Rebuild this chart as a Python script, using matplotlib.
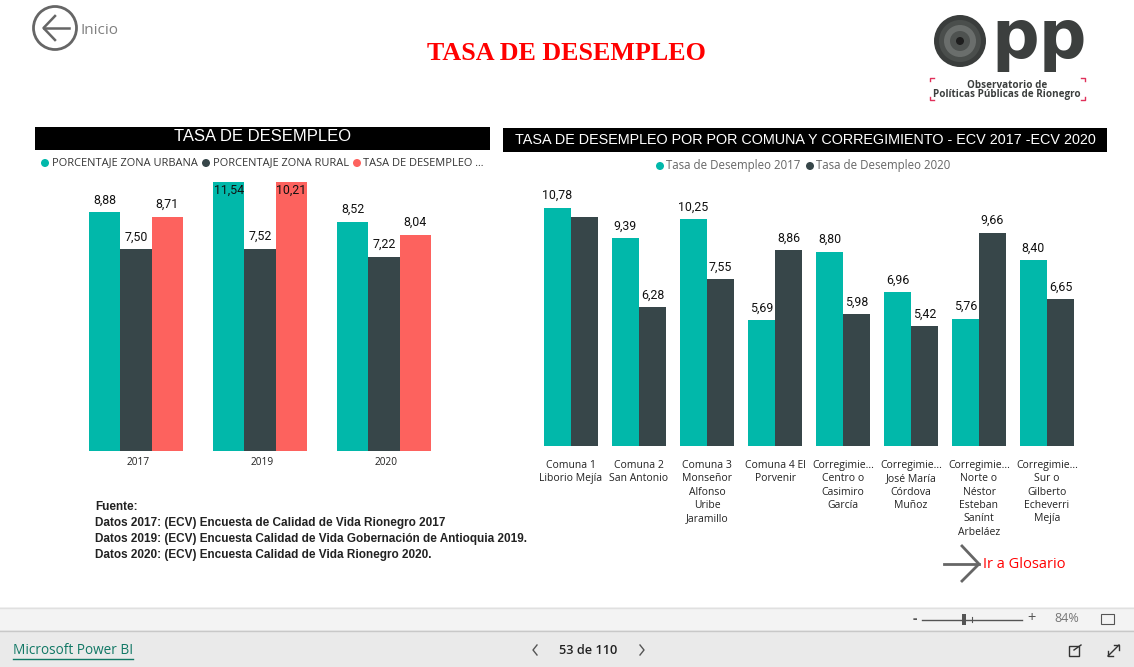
import matplotlib
matplotlib.use('Agg')
import matplotlib.pyplot as plt
from matplotlib.patches import Circle, Rectangle
from matplotlib.transforms import ScaledTranslation

# colours from the power bi theme
TEAL = '#01B8AA'
DARK = '#374649'
RED = '#FD625E'
GREY = '#666666'

# left chart data
years = ['2017', '2019', '2020']
urbana = [8.88, 11.54, 8.52]
rural = [7.50, 7.52, 7.22]
tasa = [8.71, 10.21, 8.04]

# right chart data
comunas = ['Comuna 1\nLiborio Mejía', 'Comuna 2\nSan Antonio',
           'Comuna 3\nMonseñor\nAlfonso\nUribe\nJaramillo', 'Comuna 4 El\nPorvenir',
           'Corregimie...\nCentro o\nCasimiro\nGarcía', 'Corregimie...\nJosé María\nCórdova\nMuñoz',
           'Corregimie...\nNorte o\nNéstor\nEsteban\nSanínt\nArbeláez',
           'Corregimie...\nSur o\nGilberto\nEcheverri\nMejía']
tasa_2017 = [10.78, 9.39, 10.25, 5.69, 8.80, 6.96, 5.76, 8.40]
tasa_2020 = [10.36, 6.28, 7.55, 8.86, 5.98, 5.42, 9.66, 6.65]
# power bi hid this one label in the original
hidden_2020 = [0]

fuente = ['Fuente:',
          'Datos 2017: (ECV) Encuesta de Calidad de Vida Rionegro 2017',
          'Datos 2019: (ECV) Encuesta Calidad de Vida Gobernación de Antioquia 2019.',
          'Datos 2020: (ECV) Encuesta Calidad de Vida Rionegro 2020.']

W, H = 1134, 667
plt.rcParams['font.family'] = ['Open Sans', 'DejaVu Sans']
fig = plt.figure(figsize=(W / 100, H / 100), dpi=100, facecolor='white')

# overlay in screen pixels for the report furniture
bg = fig.add_axes([0, 0, 1, 1])
bg.set_xlim(0, W)
bg.set_ylim(H, 0)
bg.axis('off')


def make_axes(left, right, top, bottom):
    ax = fig.add_axes([left / W, 1 - bottom / H, (right - left) / W, (bottom - top) / H])
    ax.patch.set_alpha(0)
    for side in ax.spines:
        ax.spines[side].set_visible(False)
    ax.set_yticks([])
    ax.tick_params(axis='x', length=0)
    return ax


def label_bars(ax, xs, values, ymax, skip=()):
    for i, (x, v) in enumerate(zip(xs, values)):
        if i in skip:
            continue
        text = f'{v:.2f}'.replace('.', ',')
        if v > ymax:
            # bar is cut by the axis so the label goes inside
            ax.annotate(text, (x, ymax), xytext=(0, -1), textcoords='offset points', ha='center',
                        va='top', fontsize=8.9, family='Roboto', color='#111111')
        else:
            ax.annotate(text, (x, v), xytext=(0, 4), textcoords='offset points', ha='center',
                        va='bottom', fontsize=8.9, family='Roboto', color='#111111')


# left chart
ax1 = make_axes(74, 446, 182, 451)
width = 31.3 / 124
pos = list(range(len(years)))
groups = [(urbana, TEAL, -width), (rural, DARK, 0), (tasa, RED, width)]
for values, color, shift in groups:
    xs = [p + shift for p in pos]
    ax1.bar(xs, values, width=width, color=color, edgecolor='none')
    label_bars(ax1, xs, values, 10)
ax1.set_xlim(-0.5, 2.5)
ax1.set_ylim(0, 10)
ax1.set_xticks(pos)
ax1.set_xticklabels(years, fontsize=7.3, color='#222222')
ax1.tick_params(axis='x', pad=4)
# year labels sit a bit right of the group centre in the original
for lab in ax1.get_xticklabels():
    lab.set_transform(lab.get_transform() + ScaledTranslation(2 / 100, 0, fig.dpi_scale_trans))

# right chart
ax2 = make_axes(537, 1081, 180, 446)
width2 = 27 / 68
pos2 = list(range(len(comunas)))
xs_2017 = [p - width2 / 2 for p in pos2]
xs_2020 = [p + width2 / 2 for p in pos2]
ax2.bar(xs_2017, tasa_2017, width=width2, color=TEAL)
ax2.bar(xs_2020, tasa_2020, width=width2, color=DARK)
label_bars(ax2, xs_2017, tasa_2017, 12.04)
label_bars(ax2, xs_2020, tasa_2020, 12.04, skip=hidden_2020)
ax2.set_xlim(-0.5, 7.5)
ax2.set_ylim(0, 266 / 22.1)
ax2.set_xticks(pos2)
ax2.set_xticklabels(comunas, fontsize=7.5, color='#222222', linespacing=1.3)
ax2.tick_params(axis='x', pad=10)

# title
bg.text(566, 54, 'TASA DE DESEMPLEO', color='#FF0000', fontsize=18.7, fontweight='bold',
        family='Liberation Serif', ha='center', va='center')

# black headers
bg.add_patch(Rectangle((35, 127), 455, 23, color='black', lw=0))
bg.text(263, 136.5, 'TASA DE DESEMPLEO', color='white', fontsize=12, family='Liberation Sans',
        ha='center', va='center')
bg.add_patch(Rectangle((503, 128), 604, 24, color='black', lw=0))
bg.text(805, 139.5, 'TASA DE DESEMPLEO POR POR COMUNA Y CORREGIMIENTO - ECV 2017 -ECV 2020', color='white',
        fontsize=10.4, family='Liberation Sans', ha='center', va='center')

# legends
legend_left = [(45, 52, 'PORCENTAJE ZONA URBANA', TEAL), (206, 213, 'PORCENTAJE ZONA RURAL', DARK),
               (357, 363, 'TASA DE DESEMPLEO ...', RED)]
for cx, tx, name, color in legend_left:
    bg.add_patch(Circle((cx, 163), 4, color=color, lw=0))
    bg.text(tx, 163, name, fontsize=7.9, color='#333333', va='center')
legend_right = [(660, 666, 'Tasa de Desempleo 2017', TEAL), (810, 816, 'Tasa de Desempleo 2020', DARK)]
for cx, tx, name, color in legend_right:
    bg.add_patch(Circle((cx, 166), 4, color=color, lw=0))
    bg.text(tx, 166, name, fontsize=8.3, color='#666666', va='center')

# source text
for i, line in enumerate(fuente):
    bg.text(95, 507 + i * 16, line, fontsize=8.5, fontweight='bold', family='Liberation Sans',
            color='#222222', va='center')

# back button
bg.add_patch(Circle((55, 28), 21.5, fill=False, ec=GREY, lw=2))
bg.plot([44, 69], [28, 28], color=GREY, lw=1.8)
bg.plot([55, 43.5, 55], [16, 28, 40], color=GREY, lw=1.8)
bg.text(81, 30, 'Inicio', fontsize=11, color='#808080', va='center')

# glossary button
bg.plot([944, 979], [564, 564], color=GREY, lw=2)
bg.plot([962, 979, 962], [546, 564, 581], color=GREY, lw=2)
bg.text(983, 564, 'Ir a Glosario', fontsize=10.5, color='#FF0000', va='center')

# logo
for radius, color in [(26, '#3A3D3C'), (21, '#4A4E4C'), (16, '#6A6E6C'), (10, '#4E5250'), (4, '#1E1E1E')]:
    bg.add_patch(Circle((960, 41), radius, color=color, lw=0))
bg.text(1039, 39, 'pp', fontsize=48, fontweight='bold', family='DejaVu Sans', color='#3C3F3E',
        ha='center', va='center')
bg.text(1007, 85, 'Observatorio de', fontsize=7.1, fontweight='bold', family='Open Sans', color='#3C3F3E',
        ha='center', va='center')
bg.text(1007, 95, 'Políticas Públicas de Rionegro', fontsize=7.1, fontweight='bold', family='Open Sans',
        color='#3C3F3E', ha='center', va='center')
pink = '#E0305A'
bg.plot([930, 930, 934], [81, 78, 78], color=pink, lw=1)
bg.plot([1081, 1085, 1085], [78, 78, 81], color=pink, lw=1)
bg.plot([930, 930, 934], [97, 100, 100], color=pink, lw=1)
bg.plot([1081, 1085, 1085], [100, 100, 97], color=pink, lw=1)

# power bi footer
bg.add_patch(Rectangle((0, 607), W, 23, color='#F3F3F3', lw=0))
bg.add_patch(Rectangle((0, 630), W, 37, color='#EAEAEA', lw=0))
bg.plot([0, W], [607.5, 607.5], color='#E0E0E0', lw=1)
bg.plot([0, W], [630.5, 630.5], color='#C8C8C8', lw=1)
bg.text(13, 651, 'Microsoft Power BI', fontsize=9.8, color='#117865', va='center')
bg.plot([13, 133], [659, 659], color='#117865', lw=1)
bg.text(588, 650, '53 de 110', fontsize=9.2, color='#222222', ha='center', va='center', fontweight='semibold')
bg.plot([537, 533, 537], [645, 650, 655], color='#555555', lw=1)
bg.plot([640, 644, 640], [645, 650, 655], color='#555555', lw=1)

# zoom control
bg.text(915, 619, '-', fontsize=10, fontweight='bold', color='#555555', ha='center', va='center')
bg.plot([922, 1022], [619.5, 619.5], color='#555555', lw=1)
bg.plot([972, 972], [617, 622], color='#555555', lw=0.8)
bg.add_patch(Rectangle((962, 614), 4, 11, color='#555555', lw=0))
bg.text(1032, 619, '+', fontsize=10.5, color='#555555', ha='center', va='center')
bg.text(1067, 619, '84%', fontsize=9, color='#777777', ha='center', va='center')
bg.add_patch(Rectangle((1101, 614), 13, 10, fill=False, ec='#555555', lw=0.8))

# share and expand icons
bg.add_patch(Rectangle((1069, 646), 10, 10, fill=False, ec='#333333', lw=1))
bg.plot([1074, 1081], [650, 645], color='#333333', lw=1)
bg.plot([1108, 1119], [656, 645], color='#333333', lw=1)
bg.plot([1114, 1119, 1119], [645, 645, 650], color='#333333', lw=1)
bg.plot([1108, 1108, 1113], [651, 656, 656], color='#333333', lw=1)

fig.savefig('out.png', dpi=100)
